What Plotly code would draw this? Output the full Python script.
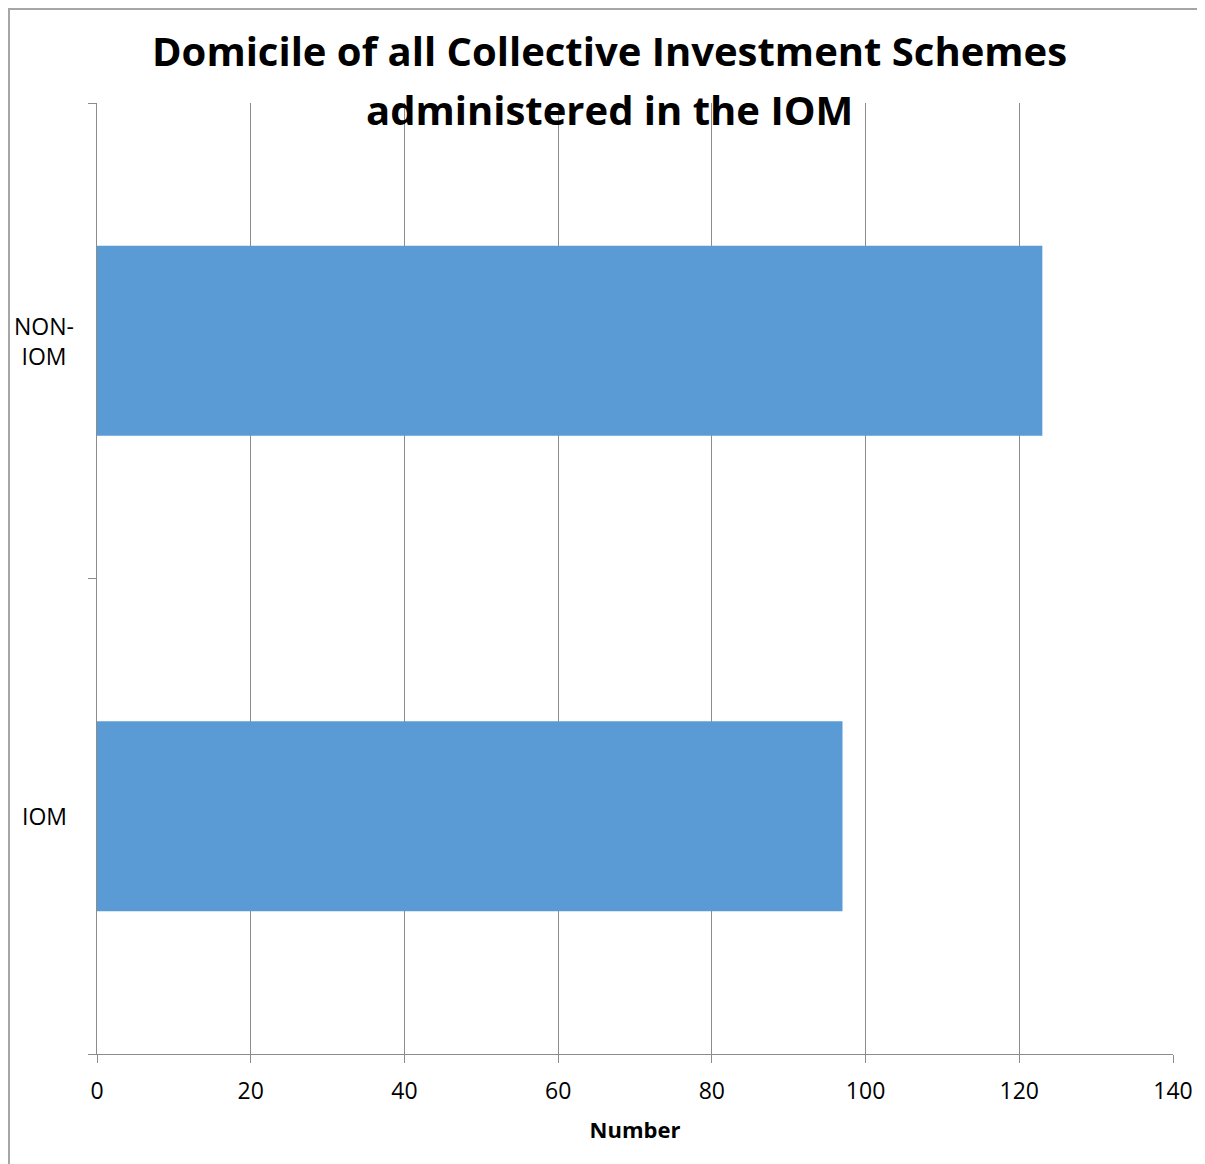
import plotly.graph_objects as go

categories = ["IOM", "NON-IOM"]
values = [97, 123]
cat_labels = ["IOM", "NON-<br>IOM"]
x_ticks = [0, 20, 40, 60, 80, 100, 120, 140]
title_lines = ["Domicile of all Collective Investment Schemes", "administered in the IOM"]

W, H = 1205, 1164
# page body has an 8px margin; figure coordinates are offset accordingly
L, R, T, B = 89, 40, 95, 118
PW, PH = W - L - R, H - T - B

fig = go.Figure(go.Bar(
    y=categories, x=values, orientation="h",
    marker=dict(color="#5B9BD5", line=dict(width=0)),
    hoverinfo="x+y",
))

gray = "#8C8C8C"
fig.update_layout(
    width=W, height=H,
    margin=dict(l=L, r=R, t=T, b=B),
    paper_bgcolor="white", plot_bgcolor="white",
    bargap=0.6, showlegend=False,
    font=dict(family="Open Sans", color="black", size=23),
    xaxis=dict(
        range=[0, 140], tickvals=x_ticks, ticktext=[str(v) for v in x_ticks],
        showgrid=True, gridcolor=gray, gridwidth=1,
        showline=True, linecolor=gray, linewidth=1,
        ticks="outside", ticklen=8, tickcolor=gray,
        ticklabelstandoff=8,
        zeroline=False,
        tickfont=dict(size=23),
        title=dict(text="<b>Number</b>", font=dict(size=22), standoff=18),
    ),
    yaxis=dict(
        type="category", categoryorder="array", categoryarray=categories,
        range=[-0.5, 1.5],
        showgrid=False, showline=True, linecolor=gray, linewidth=1,
        ticks="outside", ticklen=8, tickcolor=gray, tickson="boundaries",
        showticklabels=False, zeroline=False,
    ),
)

for c, lab in zip(categories, cat_labels):
    fig.add_annotation(x=(36 - L) / PW, xref="paper", y=c, yref="y", text=lab,
                       showarrow=False, xanchor="center", yanchor="middle",
                       align="center", font=dict(size=23))

for i, line in enumerate(title_lines):
    fig.add_annotation(x=(601 - L) / PW, xref="paper",
                       y=1 + ((T - [43, 102][i]) / PH), yref="paper",
                       text="<b>" + line + "</b>", showarrow=False,
                       xanchor="center", yanchor="middle",
                       font=dict(family="Open Sans", size=40))

# outer chart border (left and top visible)
fig.add_shape(type="rect", xref="paper", yref="paper",
              x0=(1 - L) / PW, x1=1.2,
              y0=-0.3, y1=1 + (T - 1) / PH,
              line=dict(color="#A6A6A6", width=2), layer="below")

fig.write_html("out.html")
